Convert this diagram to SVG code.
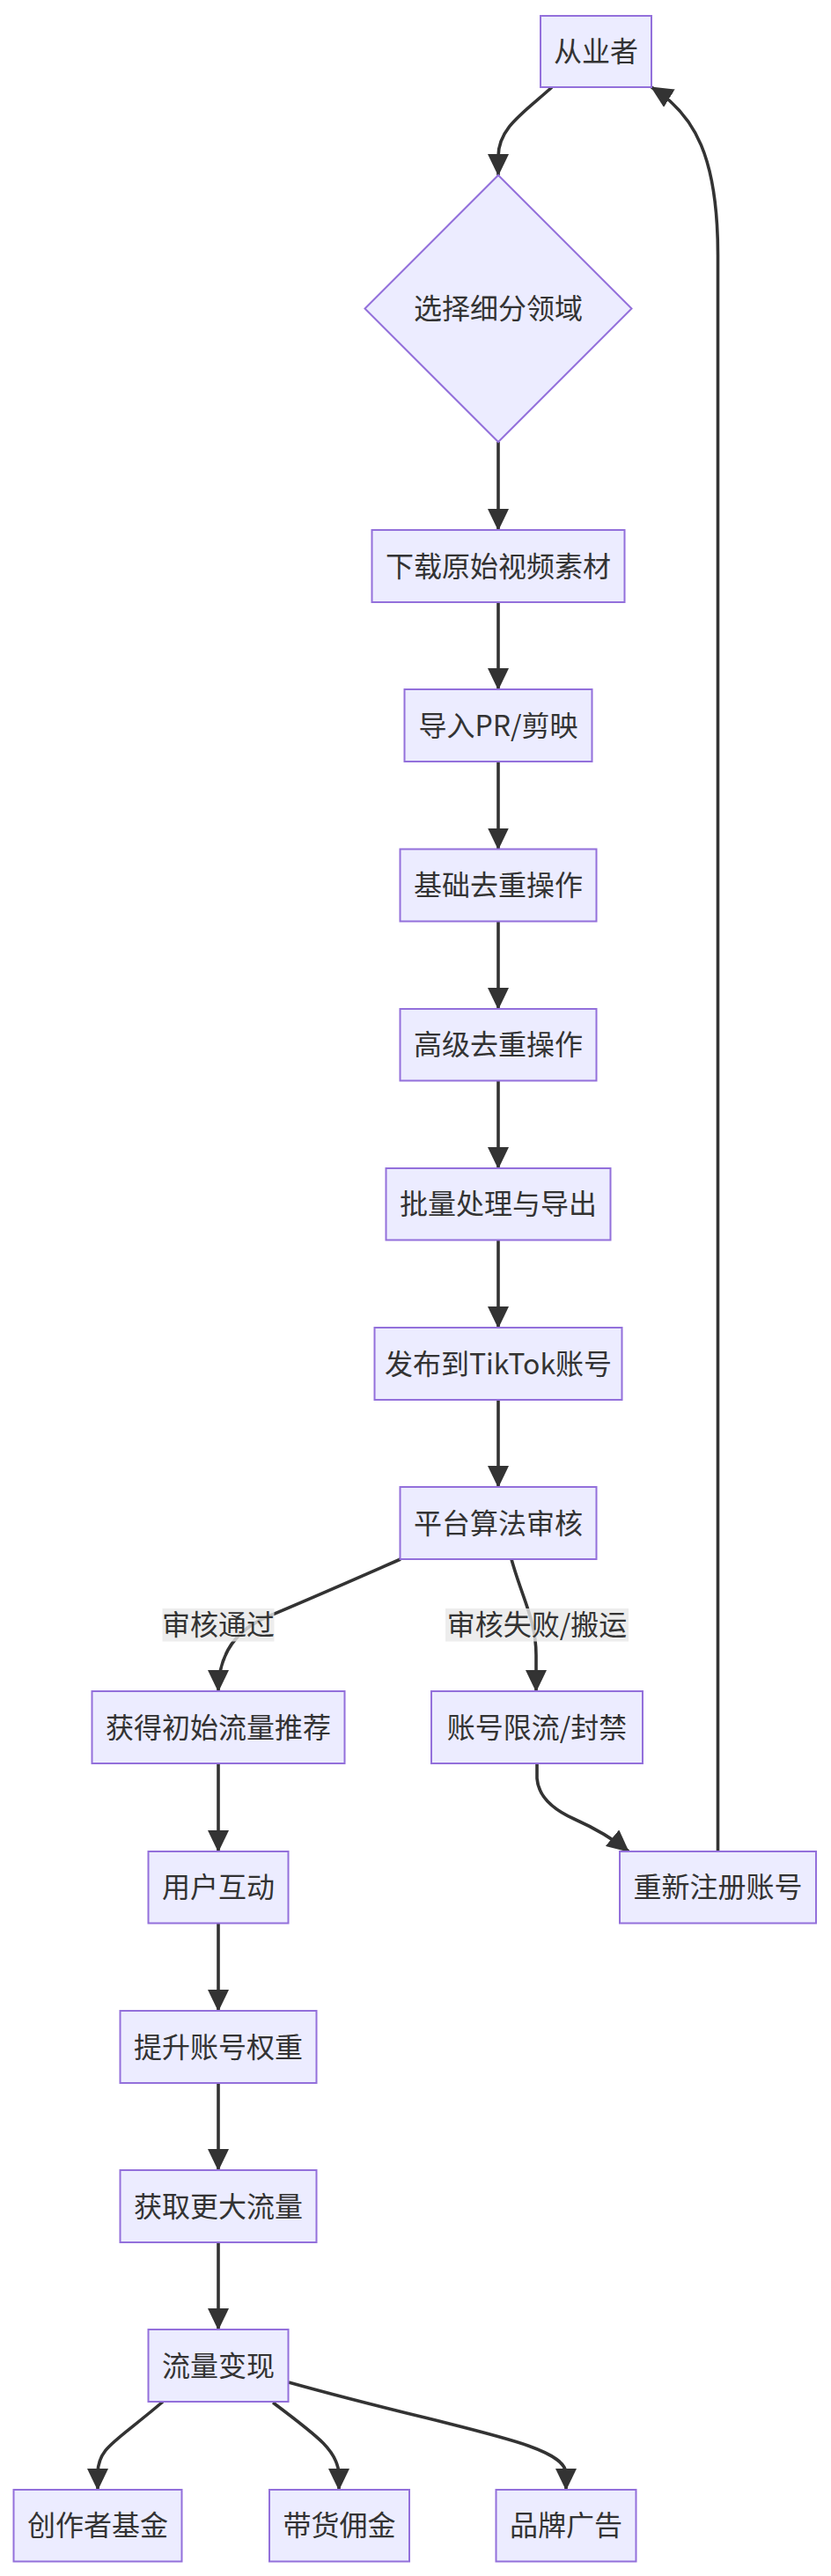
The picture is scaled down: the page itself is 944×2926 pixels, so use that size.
<svg xmlns="http://www.w3.org/2000/svg" width="944" height="2926" viewBox="0 0 944 2926">
<style>
.node rect, .node polygon { fill: #ECECFF; stroke: #9370DB; stroke-width: 2; }
.node text, .lbl text { font-family: "Noto Sans CJK SC", "Noto Sans", sans-serif; font-size: 32px; fill: #333333; text-anchor: middle; }
.edge { fill: none; stroke: #333333; stroke-width: 3.6; marker-end: url(#arrow); }
.lbl rect { fill: #e8e8e8; fill-opacity: 0.8; }
</style>
<defs>
<marker id="arrow" viewBox="0 0 25 24" markerUnits="userSpaceOnUse" markerWidth="25" markerHeight="24" refX="24" refY="12" orient="auto"><path d="M0,0 L25,12 L0,24 z" fill="#333333"/></marker>
</defs>
<rect width="944" height="2926" fill="#ffffff"/>
<g id="connectors">
<path class="edge" d="M627,99 C595,128 566,145 566,178 L566,199"/>
<path class="edge" d="M566,502 L566,602"/>
<path class="edge" d="M566,684 L566,783"/>
<path class="edge" d="M566,865 L566,964.5"/>
<path class="edge" d="M566,1046.5 L566,1146"/>
<path class="edge" d="M566,1227.5 L566,1327"/>
<path class="edge" d="M566,1408.5 L566,1508"/>
<path class="edge" d="M566,1590 L566,1689"/>
<path class="edge" d="M455,1771 Q355,1815 300,1838 Q248,1862 248,1921"/>
<path class="edge" d="M581,1771 C593,1815 609,1840 609,1880 L609,1921"/>
<path class="edge" d="M610,2003 L610,2020 Q612,2048 652,2066 Q690,2083 714,2103"/>
<path class="edge" d="M815.5,2103 L815.5,290 C815.5,180 790,130 740,99"/>
<path class="edge" d="M248,2003 L248,2103"/>
<path class="edge" d="M248,2184.5 L248,2284"/>
<path class="edge" d="M248,2366 L248,2465"/>
<path class="edge" d="M248,2547 L248,2646"/>
<path class="edge" d="M185,2728 C130,2775 111,2780 111,2810 L111,2828"/>
<path class="edge" d="M310,2729 C362,2768 385,2785 385,2812 L385,2828"/>
<path class="edge" d="M328,2706 C520,2760 643,2775 643,2810 L643,2828"/>
<g class="lbl" id="label-pass"><rect x="184.5" y="1827" width="127" height="37.5"/><text x="248" y="1857">审核通过</text></g>
<g class="lbl" id="label-fail"><rect x="506" y="1827" width="208" height="37.5"/><text x="610" y="1857">审核失败/搬运</text></g>
</g>
<g class="node" id="n-practitioner"><rect x="614" y="18" width="126" height="81"/><text x="677" y="70">从业者</text></g>
<g class="node" id="n-niche"><polygon points="566,199 717.5,350.5 566,502 414.5,350.5"/><text x="566" y="362">选择细分领域</text></g>
<g class="node" id="n-download"><rect x="422.5" y="602" width="287" height="82"/><text x="566" y="654.5">下载原始视频素材</text></g>
<g class="node" id="n-import"><rect x="459.5" y="783" width="213" height="82"/><text x="566" y="835.5">导入PR/剪映</text></g>
<g class="node" id="n-basic"><rect x="454.5" y="964.5" width="223" height="82"/><text x="566" y="1017">基础去重操作</text></g>
<g class="node" id="n-advanced"><rect x="454.5" y="1146" width="223" height="81.5"/><text x="566" y="1198">高级去重操作</text></g>
<g class="node" id="n-batch"><rect x="438.5" y="1327" width="255" height="81.5"/><text x="566" y="1379">批量处理与导出</text></g>
<g class="node" id="n-publish"><rect x="425.5" y="1508" width="281" height="82"/><text x="566" y="1560.5">发布到TikTok账号</text></g>
<g class="node" id="n-review"><rect x="454.5" y="1689" width="223" height="82"/><text x="566" y="1741.5">平台算法审核</text></g>
<g class="node" id="n-traffic"><rect x="104.5" y="1921" width="287" height="82"/><text x="248" y="1973.5">获得初始流量推荐</text></g>
<g class="node" id="n-ban"><rect x="490" y="1921" width="240" height="82"/><text x="610" y="1973.5">账号限流/封禁</text></g>
<g class="node" id="n-interact"><rect x="168.5" y="2103" width="159" height="81.5"/><text x="248" y="2155">用户互动</text></g>
<g class="node" id="n-reregister"><rect x="704" y="2103" width="223" height="81.5"/><text x="815.5" y="2155">重新注册账号</text></g>
<g class="node" id="n-weight"><rect x="136.5" y="2284" width="223" height="82"/><text x="248" y="2336.5">提升账号权重</text></g>
<g class="node" id="n-more"><rect x="136.5" y="2465" width="223" height="82"/><text x="248" y="2517.5">获取更大流量</text></g>
<g class="node" id="n-monetize"><rect x="168.5" y="2646" width="159" height="82"/><text x="248" y="2698.5">流量变现</text></g>
<g class="node" id="n-fund"><rect x="15.5" y="2828" width="191" height="81.5"/><text x="111" y="2880">创作者基金</text></g>
<g class="node" id="n-commission"><rect x="306" y="2828" width="159" height="81.5"/><text x="385.5" y="2880">带货佣金</text></g>
<g class="node" id="n-brand"><rect x="563.5" y="2828" width="159" height="81.5"/><text x="643" y="2880">品牌广告</text></g>
</svg>
